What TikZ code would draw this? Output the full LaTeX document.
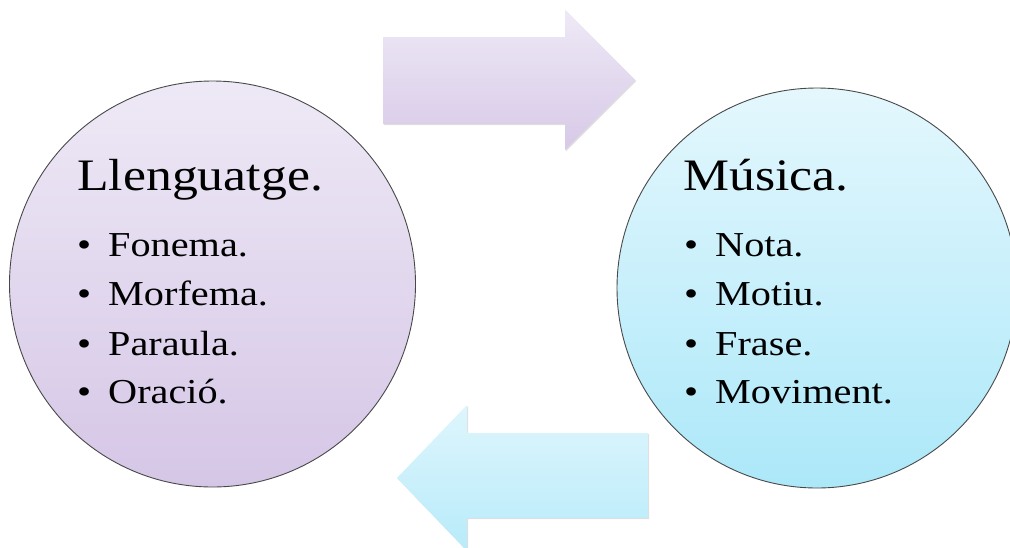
\documentclass[tikz,border=0pt]{standalone}
\usepackage{fontspec}
\setmainfont[FakeStretch=1.15]{Liberation Serif}
\usetikzlibrary{shadows}
\definecolor{lavtop}{HTML}{EEE9F6}
\definecolor{lavbot}{HTML}{D5C6E6}
\definecolor{cyantop}{HTML}{E4F7FD}
\definecolor{cyanbot}{HTML}{ACE8F9}
\definecolor{rim}{HTML}{484848}
\tikzset{
  bubble/.style={circle, draw=rim, line width=0.9pt, inner sep=0pt},
  lavfill/.style={top color=lavtop, bottom color=lavbot},
  cyanfill/.style={top color=cyantop, bottom color=cyanbot},
  blockarrow/.style={drop shadow={opacity=0.25, shadow xshift=1.2pt, shadow yshift=-1.2pt}},
  heading/.style={anchor=base west, inner sep=0pt, font=\fontsize{45}{52}\selectfont},
  item/.style={anchor=base west, inner sep=0pt, font=\fontsize{35}{40}\selectfont},
}
\begin{document}
\begin{tikzpicture}[x=1pt, y=-1pt]
\useasboundingbox (0,0) rectangle (1010,547);

% the two circles
\node[bubble, lavfill, minimum size=406pt] (lang) at (212.5,284) {};
\node[bubble, cyanfill, minimum size=400pt] (mus) at (817,288) {};

% block arrow pointing right
\path[blockarrow, top color=lavtop, bottom color=lavbot!95!white]
  (383,37) -- (565,37) -- (565,10) -- (635,80) -- (565,150) -- (565,124) -- (383,124) -- cycle;
% block arrow pointing left
\path[blockarrow, top color=cyantop!90!cyanbot, bottom color=cyanbot!80!cyantop]
  (648,433) -- (467,433) -- (467,405) -- (397,478) -- (467,551) -- (467,518) -- (648,518) -- cycle;

% left circle text
\node[heading] (langT) at (77,190) {Llenguatge.};
\foreach \y/\w [count=\i] in {256/Fonema., 305/Morfema., 355/Paraula., 403/Oració.} {
  \node[item] (lb\i) at (77,\y) {•};
  \node[item] (lw\i) at (108,\y) {\w};
}

% right circle text
\node[heading] (musT) at (683,190) {Música.};
\foreach \y/\w [count=\i] in {256/Nota., 305/Motiu., 355/Frase., 403/Moviment.} {
  \node[item] (rb\i) at (684,\y) {•};
  \node[item] (rw\i) at (715,\y) {\w};
}
\end{tikzpicture}
\end{document}
